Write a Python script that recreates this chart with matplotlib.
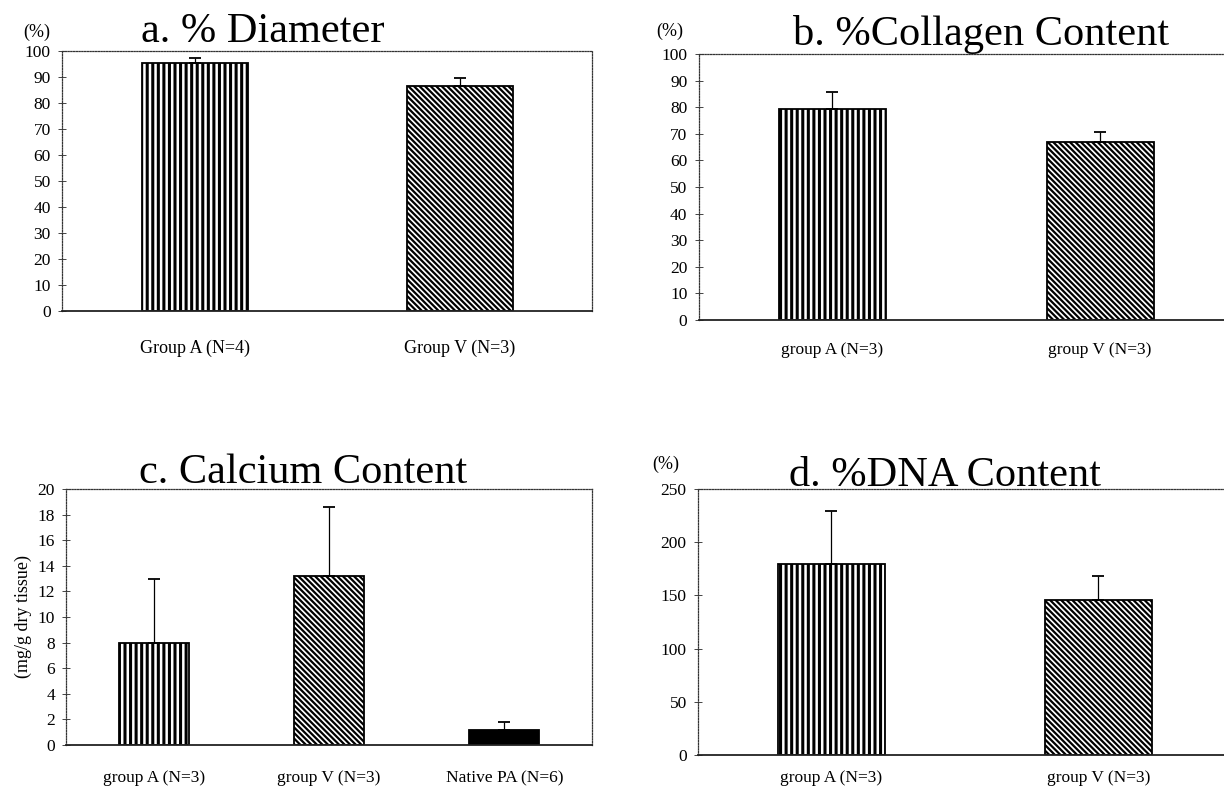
import matplotlib
matplotlib.use("Agg")
import matplotlib.pyplot as plt

plt.rcParams['font.family'] = ['Liberation Serif', 'DejaVu Serif']
plt.rcParams['hatch.linewidth'] = 2.0

# ---- data ----
a_labels = ["Group A (N=4)", "Group V (N=3)"]
a_means = [95.5, 86.5]
a_errs = [1.9, 3.0]

b_labels = ["group A (N=3)", "group V (N=3)"]
b_means = [79.5, 67.0]
b_errs = [6.3, 3.8]

c_labels = ["group A (N=3)", "group V (N=3)", "Native PA (N=6)"]
c_means = [8.0, 13.2, 1.2]
c_errs = [5.0, 5.4, 0.6]

d_labels = ["group A (N=3)", "group V (N=3)"]
d_means = [179.5, 145.5]
d_errs = [49.5, 22.5]

styles = [
    dict(hatch='|||', facecolor='white', hlw=2.2),
    dict(hatch='\\\\\\\\\\\\', facecolor='white', hlw=1.6),
    dict(hatch=None, facecolor='black', hlw=1.0),
]

W, H = 1224, 792
fig = plt.figure(figsize=(W / 100, H / 100), dpi=100)


def px_axes(left, top, right, bottom):
    return fig.add_axes([left / W, 1 - bottom / H, (right - left) / W, (bottom - top) / H])


def draw(ax, labels, means, errs, ymax, ystep, xpad, tick_fs):
    n = len(means)
    x = list(range(n))
    for i in x:
        st = styles[i]
        bars = ax.bar(i, means[i], width=0.4, facecolor=st['facecolor'],
                      edgecolor='black', linewidth=1.3, hatch=st['hatch'], zorder=2)
        for p in bars:
            try:
                p.set_hatch_linewidth(st['hlw'])
            except AttributeError:
                pass
        ax.errorbar(i, means[i], yerr=[[0], [errs[i]]], fmt='none', ecolor='black',
                    elinewidth=0.9, capsize=4, capthick=1.3, zorder=3)
    ax.set_xlim(-0.5, n - 0.5)
    ax.set_ylim(0, ymax)
    ax.set_yticks(range(0, ymax + 1, ystep))
    ax.set_xticks(x)
    ax.set_xticklabels(labels, fontsize=tick_fs)
    ax.tick_params(axis='x', length=0, pad=xpad)
    ax.tick_params(axis='y', direction='inout', length=6, width=0.7, pad=5,
                   labelsize=12.5, color='#444444')
    for s in ['top', 'left', 'right']:
        ax.spines[s].set_linestyle((0, (1, 1.2)))
        ax.spines[s].set_linewidth(0.9)
        ax.spines[s].set_color('#333333')
    ax.spines['bottom'].set_linewidth(1.3)
    ax.spines['bottom'].set_color('#222222')


ax_a = px_axes(62, 51, 592, 311)
draw(ax_a, a_labels, a_means, a_errs, 100, 10, 21, 13)

ax_b = px_axes(698.6, 54, 1234, 320)
draw(ax_b, b_labels, b_means, b_errs, 100, 10, 16, 12.5)

ax_c = px_axes(66, 489, 592, 745)
draw(ax_c, c_labels, c_means, c_errs, 20, 2, 18, 12.5)
ax_c.set_ylabel("(mg/g dry tissue)", fontsize=13, labelpad=4)

ax_d = px_axes(697.8, 489, 1232, 755)
draw(ax_d, d_labels, d_means, d_errs, 250, 50, 11, 12.5)

# titles
title_fs = 30.5
fig.text(263 / W, 1 - 42 / H, "a. % Diameter", fontsize=title_fs, ha='center', va='baseline')
fig.text(981 / W, 1 - 45 / H, "b. %Collagen Content", fontsize=title_fs, ha='center', va='baseline')
fig.text(303 / W, 1 - 483 / H, "c. Calcium Content", fontsize=title_fs, ha='center', va='baseline')
fig.text(945 / W, 1 - 486 / H, "d. %DNA Content", fontsize=title_fs, ha='center', va='baseline')

# unit labels
fig.text(37 / W, 1 - 32 / H, "(%)", fontsize=13, ha='center', va='center')
fig.text(670 / W, 1 - 31 / H, "(%)", fontsize=13, ha='center', va='center')
fig.text(666 / W, 1 - 464 / H, "(%)", fontsize=13, ha='center', va='center')

fig.savefig("out.png", dpi=100)
